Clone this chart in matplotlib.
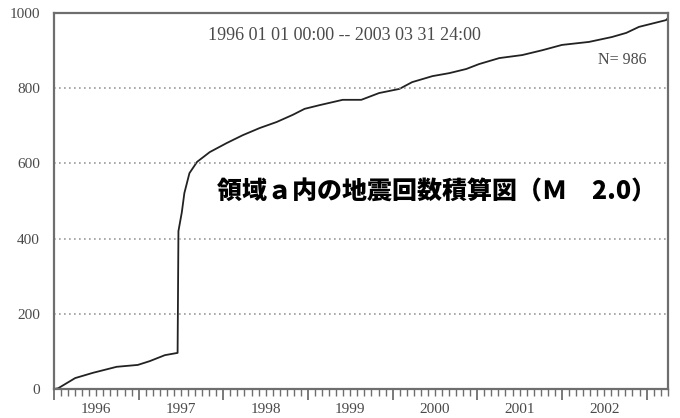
import matplotlib.pyplot as plt
import numpy as np

# cumulative count of earthquakes, time in decimal years
years = [1996.00, 1996.05, 1996.25, 1996.46, 1996.74, 1996.99, 1997.13, 1997.31, 1997.46,
         1997.47, 1997.51, 1997.54, 1997.60, 1997.69, 1997.84, 1998.04, 1998.23, 1998.43,
         1998.63, 1998.82, 1998.96, 1999.14, 1999.41, 1999.63, 1999.84, 2000.08, 2000.23,
         2000.47, 2000.67, 2000.87, 2001.02, 2001.26, 2001.53, 2001.77, 2002.00, 2002.32,
         2002.59, 2002.76, 2002.91, 2003.23, 2003.25]
counts = [0, 2, 29, 43, 59, 64, 74, 90, 96,
          420, 470, 521, 574, 604, 630, 654, 675, 694,
          710, 729, 745, 755, 769, 769, 787, 798, 816,
          832, 840, 851, 864, 880, 888, 901, 915, 923,
          936, 947, 963, 981, 986]

year_labels = ["1996", "1997", "1998", "1999", "2000", "2001", "2002"]
y_ticks = [0, 200, 400, 600, 800, 1000]

period_text = "1996 01 01 00:00 -- 2003 03 31 24:00"
n_text = "N= 986"
title = "領域ａ内の地震回数積算図（Ｍ　2.0）"

GRAY = "#6e6e6e"
TXT = "#4a4a4a"
plt.rcParams['font.family'] = ['Liberation Serif', 'DejaVu Serif']

fig = plt.figure(figsize=(6.8, 4.18), dpi=100)
ax = fig.add_axes([0.0794, 0.0694, 0.9026, 0.8996])

ax.plot(years, counts, color="#222222", linewidth=1.3)

ax.set_xlim(1996, 2003.25)
ax.set_ylim(0, 1000)

# grid
for y in y_ticks[1:-1]:
    ax.axhline(y, color="#9a9a9a", linewidth=1.2, linestyle=(0, (1, 2)))

# frame
for s in ax.spines.values():
    s.set_color(GRAY)
    s.set_linewidth(1.6)

# y axis
ax.set_yticks(y_ticks, [str(v) for v in y_ticks])
ax.tick_params(axis='y', length=0, pad=10, labelsize=11, labelcolor=TXT)

# x axis: year ticks long, month ticks short, labels centred in each year
ax.set_xticks(np.arange(1996, 2004), [""] * 8)
ax.set_xticks(np.arange(1996, 2003.26, 1 / 12), minor=True)
ax.tick_params(axis='x', which='major', direction='out', length=8, width=1.3, color=GRAY)
ax.tick_params(axis='x', which='minor', direction='out', length=5, width=1.0, color=GRAY)

sec = ax.secondary_xaxis('bottom')
sec.set_xticks(np.arange(1996, 2003) + 0.5, year_labels)
sec.tick_params(length=0, pad=10, labelsize=11, labelcolor=TXT)
sec.spines['bottom'].set_visible(False)

ax.text(0.474, 0.94, period_text, transform=ax.transAxes, ha='center', va='center',
        fontsize=13, color=TXT)
ax.text(0.965, 0.875, n_text, transform=ax.transAxes, ha='right', va='center',
        fontsize=11.5, color=TXT)
ax.text(0.265, 0.525, title, transform=ax.transAxes, ha='left', va='center',
        fontsize=18, fontweight='heavy', color='black',
        family=['Noto Sans CJK JP', 'DejaVu Sans'])

fig.savefig("out.png", dpi=100)
